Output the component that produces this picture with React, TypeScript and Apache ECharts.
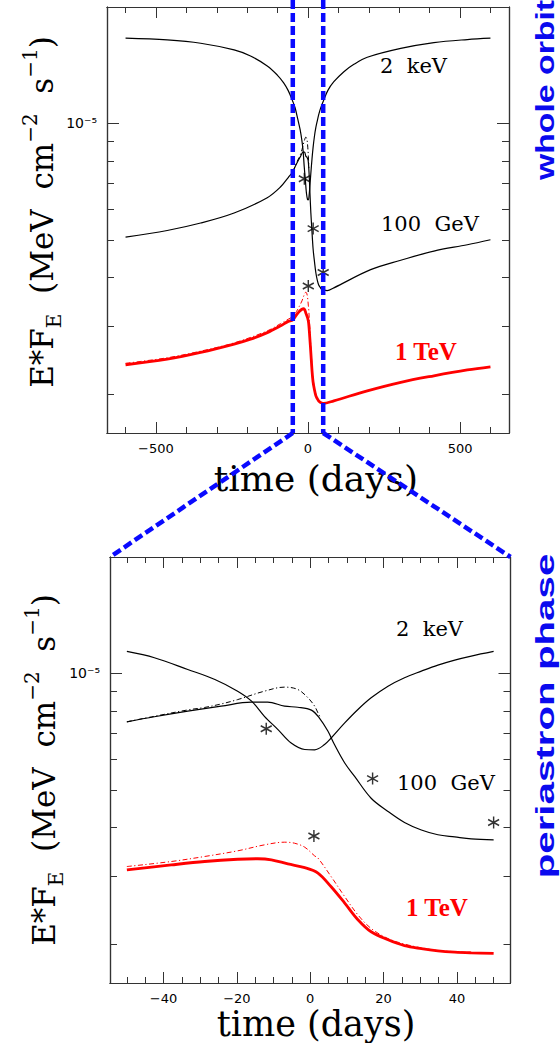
import React, { useEffect, useRef } from "react";
import * as echarts from "echarts";

// ---------- data: [time (days), E*F_E (MeV cm^-2 s^-1)] ----------
const keV2: [number, number][] = [
  [-600, 1.661e-5], [-463, 1.644e-5], [-353, 1.612e-5], [-243, 1.549e-5], [-189, 1.494e-5],
  [-134, 1.408e-5], [-101, 1.334e-5], [-80, 1.274e-5], [-65, 1.216e-5],
  [-50, 1.14e-5], [-42.5, 1.098e-5], [-33.4, 1.024e-5], [-26, 0.965e-5], [-19.8, 0.9e-5],
  [-16, 0.848e-5], [-12.5, 0.775e-5], [-8.8, 0.716e-5], [-5.2, 0.661e-5], [-1.5, 0.636e-5],
  [1.2, 0.635e-5], [3.9, 0.655e-5], [5.7, 0.681e-5], [9.4, 0.745e-5], [13, 0.807e-5],
  [16.6, 0.865e-5], [21.2, 0.927e-5], [25.7, 0.975e-5], [30.3, 1.014e-5], [34.8, 1.051e-5],
  [39.4, 1.083e-5], [43.9, 1.109e-5], [50, 1.14e-5],
  [65, 1.216e-5], [85, 1.282e-5], [118, 1.361e-5], [151, 1.422e-5], [195, 1.483e-5],
  [305, 1.563e-5], [414, 1.618e-5], [524, 1.648e-5], [600, 1.661e-5],
];

const gev100: [number, number][] = [
  [-600, 0.5085e-5], [-463, 0.529e-5], [-353, 0.553e-5], [-243, 0.587e-5], [-134, 0.643e-5],
  [-90, 0.686e-5], [-65, 0.725e-5],
  [-50, 0.75e-5], [-42.5, 0.773e-5], [-33.4, 0.799e-5], [-24.3, 0.823e-5], [-16.1, 0.843e-5],
  [-11.6, 0.843e-5], [-7, 0.823e-5], [-3.4, 0.818e-5], [0.3, 0.804e-5], [2.5, 0.767e-5],
  [4.8, 0.71e-5], [6.6, 0.655e-5], [9.4, 0.587e-5], [12.1, 0.542e-5], [16.6, 0.476e-5],
  [21.2, 0.44e-5], [25.7, 0.412e-5], [30.3, 0.394e-5], [34.8, 0.383e-5], [39.4, 0.378e-5],
  [43.9, 0.3735e-5], [50, 0.3715e-5],
  [63, 0.37e-5], [85, 0.376e-5], [206, 0.419e-5], [305, 0.443e-5], [414, 0.468e-5],
  [524, 0.486e-5], [600, 0.5006e-5],
];

const gev100Alt: [number, number][] = [
  [-50, 0.75e-5], [-42.5, 0.775e-5], [-33.4, 0.805e-5], [-28.8, 0.817e-5], [-24.3, 0.834e-5],
  [-19.8, 0.856e-5], [-12.5, 0.9e-5], [-7, 0.922e-5], [-3.4, 0.909e-5], [-0.6, 0.865e-5],
  [1.2, 0.823e-5], [2.1, 0.791e-5], [2.8, 0.767e-5],
];

const tev1: [number, number][] = [
  [-600, 0.2379e-5], [-463, 0.246e-5], [-353, 0.256e-5], [-243, 0.269e-5], [-189, 0.277e-5],
  [-134, 0.288e-5], [-90, 0.3e-5], [-65, 0.308e-5],
  [-50, 0.3106e-5], [-37.9, 0.32e-5], [-28.8, 0.3266e-5], [-19.8, 0.331e-5], [-14.3, 0.332e-5],
  [-10.6, 0.33e-5], [-6.1, 0.322e-5], [-1.5, 0.315e-5], [2.1, 0.305e-5], [5.7, 0.281e-5],
  [9.4, 0.255e-5], [13, 0.231e-5], [16.6, 0.215e-5], [21.2, 0.205e-5], [25.7, 0.198e-5],
  [30.3, 0.1945e-5], [34.8, 0.192e-5], [39.4, 0.1905e-5], [43.9, 0.1897e-5], [50, 0.189e-5],
  [85, 0.192e-5], [195, 0.2037e-5], [305, 0.2143e-5], [414, 0.2228e-5], [524, 0.2307e-5],
  [600, 0.235e-5],
];

const tev1Alt: [number, number][] = [
  [-600, 0.24e-5], [-463, 0.248e-5], [-353, 0.258e-5], [-243, 0.271e-5], [-134, 0.291e-5],
  [-90, 0.304e-5], [-65, 0.312e-5],
  [-50, 0.317e-5], [-37.9, 0.3266e-5], [-28.8, 0.3365e-5], [-19.8, 0.348e-5], [-12.5, 0.3606e-5],
  [-7, 0.3664e-5], [-4.3, 0.3642e-5], [-1.5, 0.3556e-5], [1.2, 0.3377e-5], [2.1, 0.3334e-5],
  [5.7, 0.2985e-5], [9.4, 0.265e-5], [13, 0.2377e-5], [16.6, 0.2193e-5], [21.2, 0.2065e-5],
  [25.7, 0.1998e-5], [30.3, 0.1954e-5], [34.8, 0.1923e-5], [39.4, 0.191e-5], [43.9, 0.19e-5],
  [50, 0.1892e-5],
];

const observed: [number, number][] = [
  [-12, 7.2e-6], [17, 5.35e-6], [50, 4.12e-6], [1, 3.8e-6],
];

// ---------- axes ----------
const topXRange = [-661, 661];
const botXRange = [-54.6, 54.6];
const topXMajor = [-500, 0, 500];
const topXMinor = [-600, -400, -300, -200, -100, 100, 200, 300, 400, 600];
const botXMajor = [-40, -20, 0, 20, 40];
const botXMinor = [-50, -45, -35, -30, -25, -15, -10, -5, 5, 10, 15, 25, 30, 35, 45, 50];
const yRange = [1.585e-6, 2e-5];
const yMajor = [1e-5];
const yMajorLabels = ["10\u207B\u2075"];
const yMinor = [2e-6, 3e-6, 4e-6, 5e-6, 6e-6, 7e-6, 8e-6, 9e-6];
const windowDays = 50;

const lg = (v: number) => Math.log10(v);
const toLog = (p: [number, number][]) => p.map(([d, v]) => [d, lg(v)]);
const inWindow = (p: [number, number][]) => p.filter(([d]) => Math.abs(d) <= windowDays + 0.5);

const AX = "#333";
const minus = (v: number) => (v < 0 ? "\u2212" + Math.abs(v) : String(v));

function xAxes(g: number, range: number[], major: number[], minor: number[]) {
  const base = (pos: string, vals: number[], len: number, labels: boolean) => ({
    gridIndex: g,
    type: "value",
    min: range[0],
    max: range[1],
    position: pos,
    axisLine: { show: true, onZero: false, lineStyle: { color: AX, width: 1.2 } },
    axisTick: { show: true, inside: true, length: len, customValues: vals, lineStyle: { color: AX, width: 1 } },
    axisLabel: labels
      ? { show: true, customValues: vals, formatter: (v: number) => minus(v), margin: 9, color: "#000", fontFamily: "DejaVu Sans", fontSize: 13 }
      : { show: false },
    splitLine: { show: false },
  });
  return [
    base("bottom", major, 11, true),
    base("bottom", minor, 6, false),
    base("top", major, 11, false),
    base("top", minor, 6, false),
  ];
}

function yAxes(g: number) {
  const majorLog = yMajor.map(lg);
  const base = (pos: string, vals: number[], len: number, labels: boolean) => ({
    gridIndex: g,
    type: "value",
    min: lg(yRange[0]),
    max: lg(yRange[1]),
    position: pos,
    axisLine: { show: true, onZero: false, lineStyle: { color: AX, width: 1.2 } },
    axisTick: { show: true, inside: true, length: len, customValues: vals.map(lg), lineStyle: { color: AX, width: 1 } },
    axisLabel: labels
      ? {
          show: true,
          customValues: majorLog,
          margin: 10,
          color: "#000",
          fontFamily: "DejaVu Sans",
          fontSize: 14,
          formatter: (v: number) => {
            const i = majorLog.findIndex((m) => Math.abs(m - v) < 1e-6);
            return i >= 0 ? yMajorLabels[i] : "";
          },
        }
      : { show: false },
    splitLine: { show: false },
  });
  return [
    base("left", yMajor, 12, true),
    base("left", yMinor, 7, false),
    base("right", yMajor, 12, false),
    base("right", yMinor, 7, false),
  ];
}

const STAR = "path://M0,-5L0,5M-4.33,-2.5L4.33,2.5M-4.33,2.5L4.33,-2.5";

function seriesFor(g: number, clip: boolean) {
  const xi = g * 4;
  const yi = g * 4;
  const prep = (p: [number, number][]) => toLog(clip ? inWindow(p) : p);
  const line = (name: string, p: [number, number][], color: string, width: number, type: any, z: number) => ({
    name,
    type: "line",
    xAxisIndex: xi,
    yAxisIndex: yi,
    data: prep(p),
    symbol: "none",
    showSymbol: false,
    smooth: 0.35,
    silent: true,
    z,
    lineStyle: { color, width, type },
  });
  return [
    line("2 keV", keV2, "#000", 1.2, "solid", 3),
    line("100 GeV alt", gev100Alt, "#000", 1, [5, 2.5, 1.2, 2.5], 3),
    line("100 GeV", gev100, "#000", 1.2, "solid", 4),
    line("1 TeV alt", tev1Alt, "#ff0000", 1, [5, 2.5, 1.2, 2.5], 3),
    line("1 TeV", tev1, "#ff0000", 2.8, "solid", 4),
    {
      name: "obs",
      type: "scatter",
      xAxisIndex: xi,
      yAxisIndex: yi,
      data: toLog(observed),
      symbol: STAR,
      symbolSize: [11, 12],
      silent: true,
      z: 6,
      itemStyle: { color: "rgba(0,0,0,0)", borderColor: "#000", borderWidth: 1.5 },
    },
  ];
}

const G0 = { left: 107, top: 7, width: 402, height: 426 };
const G1 = { left: 110, top: 557, width: 400.5, height: 426 };

export default function App() {
  const ref = useRef<HTMLDivElement>(null);
  useEffect(() => {
    if (!ref.current) return;
    const chart = echarts.init(ref.current, null, { renderer: "svg" });
    chart.setOption({
      animation: false,
      backgroundColor: "#fff",
      grid: [
        { ...G0, containLabel: false },
        { ...G1, containLabel: false },
      ],
      xAxis: [...xAxes(0, topXRange, topXMajor, topXMinor), ...xAxes(1, botXRange, botXMajor, botXMinor)],
      yAxis: [...yAxes(0), ...yAxes(1)],
      series: [...seriesFor(0, false), ...seriesFor(1, true)],
    });

    const xl = chart.convertToPixel({ xAxisIndex: 0 }, -windowDays) as number;
    const xr = chart.convertToPixel({ xAxisIndex: 0 }, windowDays) as number;
    const yb = G0.top + G0.height;
    const blue = { stroke: "#0a0aff", lineWidth: 4.5, lineDash: [9, 4], fill: "none" };
    const serif = "DejaVu Serif";
    const txt = (text: string, x: number, y: number, size: number, extra: any = {}) => ({
      type: "text",
      x,
      y,
      z: 50,
      style: { text, fontFamily: serif, fontSize: size, fill: "#000", align: "left", verticalAlign: "middle", ...extra },
    });
    const tev = (x: number, y: number) => txt("1 TeV", x, y, 25, { fontFamily: "Liberation Serif", fontWeight: "bold", fill: "#ff0000" });
    const yTitle = (x: number, y: number) => ({
      type: "text",
      x,
      y,
      rotation: Math.PI / 2,
      z: 50,
      style: {
        text: "{m|E*F}{sub|E}{m|  (MeV  cm}{sup|\u22122}{m|  s}{sup|\u22121}{m|)}",
        align: "center",
        verticalAlign: "middle",
        rich: {
          m: { fontFamily: serif, fontSize: 31, fill: "#000", lineHeight: 44 },
          sub: { fontFamily: serif, fontSize: 20, fill: "#000", verticalAlign: "bottom", lineHeight: 22 },
          sup: { fontFamily: serif, fontSize: 20, fill: "#000", verticalAlign: "top", lineHeight: 22 },
        },
      },
    });
    const side = (text: string, x: number, y: number, size: number, stretch: number) => ({
      type: "text",
      x,
      y,
      rotation: Math.PI / 2,
      scaleX: stretch,
      z: 50,
      style: { text, fontFamily: "Liberation Sans", fontWeight: "bold", fontSize: size, fill: "#0a0aee", align: "center", verticalAlign: "middle" },
    });

    chart.setOption({
      graphic: [
        { type: "line", z: 100, shape: { x1: xl, y1: 0, x2: xl, y2: yb }, style: blue },
        { type: "line", z: 100, shape: { x1: xr, y1: 0, x2: xr, y2: yb }, style: blue },
        { type: "line", z: 100, shape: { x1: xl, y1: yb, x2: G1.left, y2: G1.top }, style: blue },
        { type: "line", z: 100, shape: { x1: xr, y1: yb, x2: G1.left + G1.width, y2: G1.top }, style: blue },
        txt("2  keV", 380, 66, 21),
        txt("100  GeV", 381, 224, 21),
        tev(395, 351),
        txt("2  keV", 396, 629, 21),
        txt("100  GeV", 397, 783, 21),
        tev(406, 907),
        txt("time (days)", 316, 478, 36, { align: "center" }),
        txt("time (days)", 316, 1024, 35, { align: "center" }),
        yTitle(42, 212),
        yTitle(44, 770),
        side("whole orbit", 545, 90, 26, 1.3),
        side("periastron phase", 545, 716, 26, 1.55),
      ],
    });
    return () => chart.dispose();
  }, []);
  return (
    <div
      ref={ref}
      style={{ position: "absolute", left: 0, top: 0, width: 560, height: 1043, background: "#fff" }}
    />
  );
}
